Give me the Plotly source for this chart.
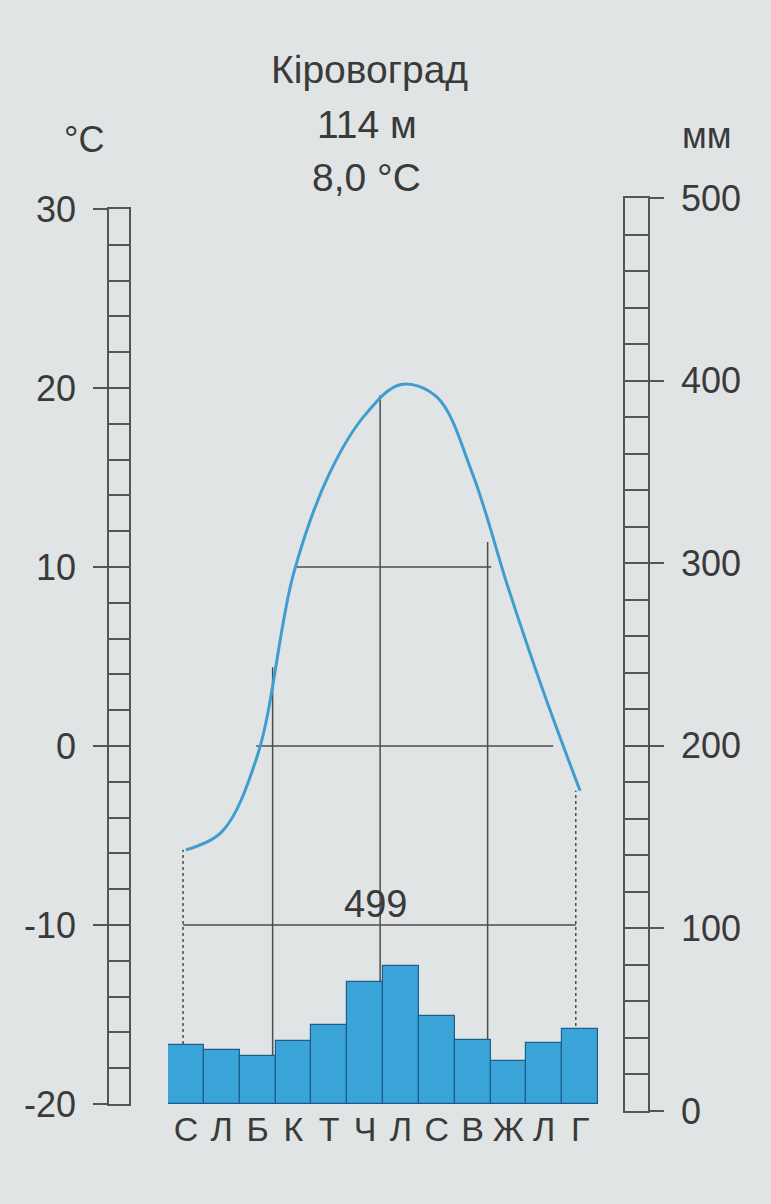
import plotly.graph_objects as go

months = ["С", "Л", "Б", "К", "Т", "Ч", "Л", "С", "В", "Ж", "Л", "Г"]
precip_mm = [33, 30, 27, 35, 44, 68, 77, 49, 36, 24, 34, 42]
temp_c = [-5.8, -4.8, -0.5, 9.6, 15.2, 18.5, 20.2, 19.5, 15.2, 8.8, 2.9, -2.5]
station = "Кіровоград"
elevation = "114 м"
mean_temp = "8,0 °C"
annual_total = "499"
temp_ticks = [-20, -10, 0, 10, 20, 30]
temp_tick_text = ["-20", "-10", "0", "10", "20", "30"]
precip_ticks = [0, 100, 200, 300, 400, 500]
precip_tick_text = ["0", "100", "200", "300", "400", "500"]

W, H = 771, 1204
FONT = "Liberation Sans, Arial, sans-serif"
TXT = "#3a3a3a"
GRID = "#555555"
BG = "#e1e4e4"


def py(p):
    return 1 - p / H


def px(p):
    return p / W


main_dom = [py(1104), py(209)]
right_dom = [py(1111), py(198)]
n = len(months)
idx = list(range(n))

fig = go.Figure()

# precipitation bars (mm axis overlaying the temperature axis)
fig.add_trace(go.Bar(
    x=idx, y=precip_mm, yaxis="y2", xaxis="x",
    marker=dict(color="#3aa3d8", line=dict(color="#1d5f8a", width=1.2)),
    width=1.0, showlegend=False, hoverinfo="skip"))

# temperature curve
fig.add_trace(go.Scatter(
    x=idx, y=temp_c, xaxis="x", yaxis="y", mode="lines",
    line=dict(color="#3f9dd0", width=3, shape="spline", smoothing=1.0),
    showlegend=False, hoverinfo="skip"))

# dummy traces for the ladder subplots
fig.add_trace(go.Scatter(x=[0.5], y=[0], xaxis="x2", yaxis="y3", mode="none",
                         showlegend=False, hoverinfo="skip"))
fig.add_trace(go.Scatter(x=[0.5], y=[0], xaxis="x3", yaxis="y4", mode="none",
                         showlegend=False, hoverinfo="skip"))

guide = dict(color="#4d4d4d", width=1.5)
shapes = []
# horizontal guides: 0 °C, 10 °C, and annual total line at -10 (100 mm)
for x0, x1, yv in [(1.96, 10.25, 0), (3.07, 8.52, 10), (-0.08, 10.88, -10)]:
    shapes.append(dict(type="line", xref="x", yref="y", x0=x0, x1=x1, y0=yv, y1=yv,
                       line=guide, layer="below"))
# vertical guides
for xv, ytop in [(2.42, 4.4), (5.42, 19.6), (8.42, 11.4)]:
    shapes.append(dict(type="line", xref="x", yref="y", x0=xv, x1=xv, y0=-20, y1=ytop,
                       line=guide, layer="below"))
# dotted verticals at curve ends
for xv, ytop in [(-0.08, temp_c[0]), (10.88, temp_c[-1])]:
    shapes.append(dict(type="line", xref="x", yref="y", x0=xv, x1=xv, y0=-20, y1=ytop,
                       line=dict(color="#4d4d4d", width=1.5, dash="dot"), layer="below"))

annotations = [
    dict(text=station, x=px(369), y=py(70), xref="paper", yref="paper", showarrow=False,
         font=dict(family=FONT, size=39, color=TXT), xanchor="center", yanchor="middle"),
    dict(text=elevation, x=px(367), y=py(124), xref="paper", yref="paper", showarrow=False,
         font=dict(family=FONT, size=39, color=TXT), xanchor="center", yanchor="middle"),
    dict(text=mean_temp, x=px(366), y=py(177), xref="paper", yref="paper", showarrow=False,
         font=dict(family=FONT, size=39, color=TXT), xanchor="center", yanchor="middle"),
    dict(text="°C", x=px(84), y=py(140), xref="paper", yref="paper", showarrow=False,
         font=dict(family=FONT, size=36, color=TXT), xanchor="center", yanchor="middle"),
    dict(text="мм", x=px(707), y=py(136), xref="paper", yref="paper", showarrow=False,
         font=dict(family=FONT, size=36, color=TXT), xanchor="center", yanchor="middle"),
    dict(text=annual_total, x=5.3, y=-10, xref="x", yref="y", showarrow=False,
         font=dict(family=FONT, size=38, color=TXT), xanchor="center", yanchor="bottom",
         yshift=-2),
]

ladder_y = dict(showline=True, mirror=True, linecolor=GRID, linewidth=1.5,
                showgrid=True, gridcolor=GRID, gridwidth=1.5, zeroline=False,
                ticks="outside", ticklen=14, tickwidth=1.5, tickcolor=GRID,
                tickfont=dict(family=FONT, size=36, color=TXT),
                ticklabelstandoff=10, fixedrange=True, automargin=False)
ladder_x = dict(showline=True, mirror=True, linecolor=GRID, linewidth=1.5,
                showgrid=False, zeroline=False, showticklabels=False, ticks="",
                range=[0, 1], fixedrange=True, automargin=False)

fig.update_layout(
    width=W, height=H,
    margin=dict(l=0, r=0, t=0, b=0, autoexpand=False),
    paper_bgcolor=BG, plot_bgcolor="rgba(0,0,0,0)",
    bargap=0, showlegend=False,
    xaxis=dict(domain=[px(168), px(598)], range=[-0.5, 11.5], tickmode="array",
               tickvals=idx, ticktext=months, showgrid=False, zeroline=False,
               showline=False, ticks="", ticklabelstandoff=2, tickangle=0,
               tickfont=dict(family=FONT, size=34, color=TXT), anchor="y",
               automargin=False, fixedrange=True),
    yaxis=dict(domain=main_dom, range=[-20, 30], visible=False, anchor="x",
               automargin=False, fixedrange=True),
    yaxis2=dict(domain=main_dom, range=[0, 500], visible=False, overlaying="y",
                anchor="x", automargin=False, fixedrange=True),
    xaxis2=dict(domain=[px(109), px(129)], anchor="y3", **ladder_x),
    yaxis3=dict(domain=main_dom, range=[-20, 30], anchor="x2", side="left",
                tickmode="array", tickvals=temp_ticks, ticktext=temp_tick_text,
                minor=dict(dtick=2, showgrid=True, gridcolor=GRID, gridwidth=1.5,
                           ticks=""),
                **ladder_y),
    xaxis3=dict(domain=[px(625), px(648)], anchor="y4", **ladder_x),
    yaxis4=dict(domain=right_dom, range=[0, 500], anchor="x3", side="right",
                tickmode="array", tickvals=precip_ticks, ticktext=precip_tick_text,
                minor=dict(dtick=20, showgrid=True, gridcolor=GRID, gridwidth=1.5,
                           ticks=""),
                **ladder_y),
    shapes=shapes,
    annotations=annotations,
)

fig.write_html("out.html", config={"displayModeBar": False},
               post_script="document.body.style.margin='0';")
